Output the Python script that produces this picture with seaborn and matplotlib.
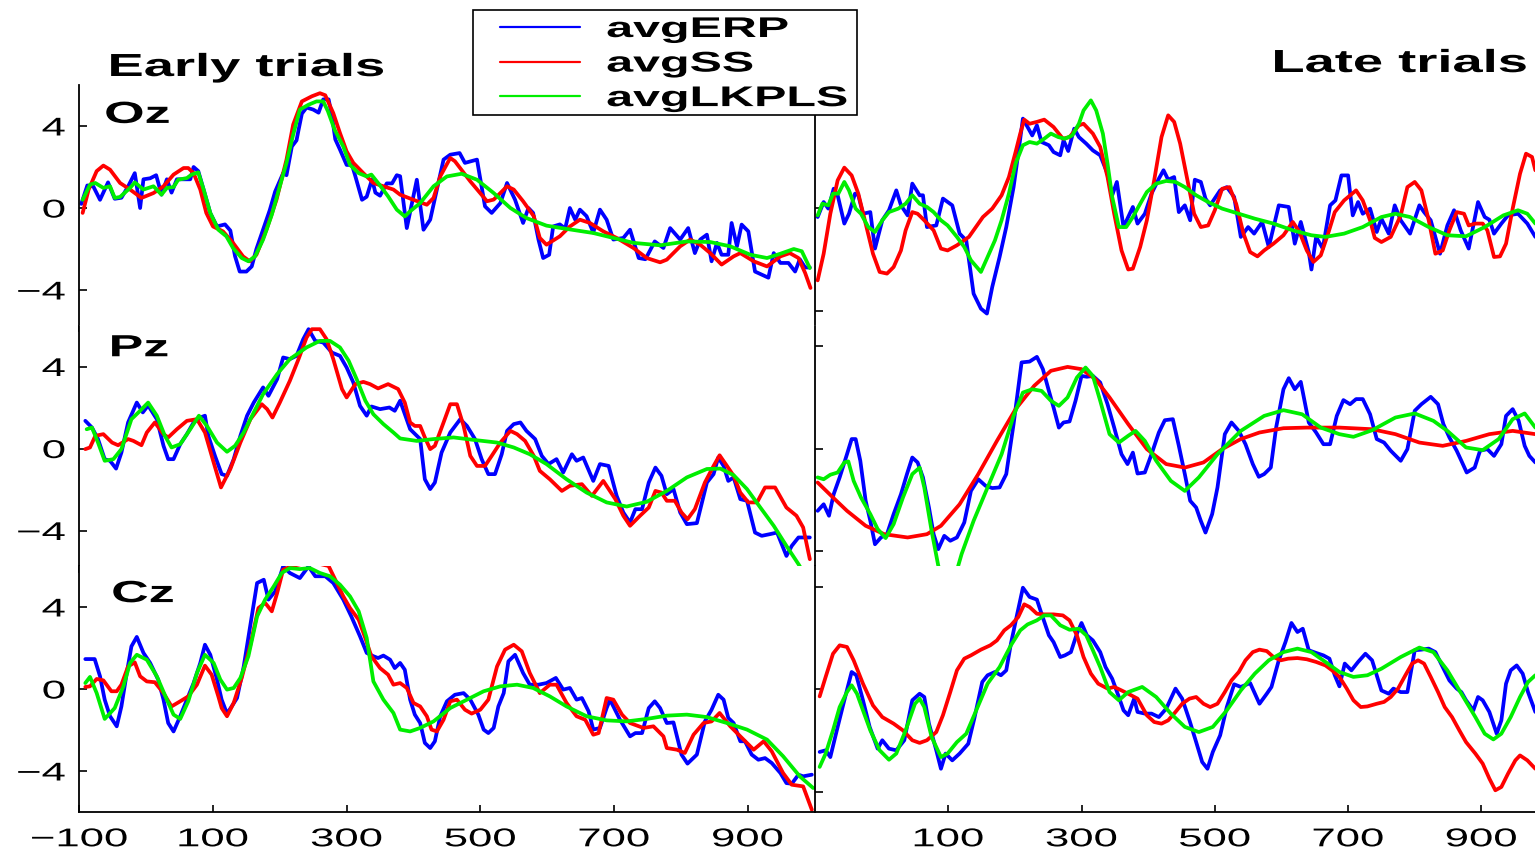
import matplotlib
matplotlib.use("Agg")
import pandas as pd
import seaborn as sns
import matplotlib.pyplot as plt
from matplotlib.patheffects import AbstractPathEffect
from matplotlib.transforms import Affine2D
from matplotlib.lines import Line2D
from matplotlib.patches import Rectangle

# ---------------------------------------------------------------- labels
SERIES = ["avgERP", "avgSS", "avgLKPLS"]
COLORS = ["#0000ff", "#ff0000", "#00ee00"]
CHANNELS = ["Oz", "Pz", "Cz"]
PERIODS = ["Early trials", "Late trials"]
X_TICKS_EARLY = [-100, 100, 300, 500, 700, 900]
X_TICKS_LATE = [100, 300, 500, 700, 900]
Y_TICKS_EARLY = [-4, 0, 4]
Y_TICKS_LATE = [-5, 0, 5]

# ---------------------------------------------------------------- data (time ms, amplitude uV)
OZ_EARLY_ERP = [(-97,0.2),(-88,1.1),(-79,1.05),(-69,0.4),(-57,1.25),(-47,0.45),(-37,0.5),(-27,1.05),(-17,1.7),(-9,0.0),(-4,1.4),(6,1.45),(15,1.6),(23,0.65),(31,1.4),(38,0.75),(46,1.4),(58,1.4),(66,1.4),(71,2.0),(78,1.8),(86,0.9),(96,-0.25),(106,-0.9),(118,-0.8),(126,-1.1),(133,-2.35),(140,-3.1),(150,-3.1),(158,-2.85),(165,-2.0),(175,-1.05),(185,-0.1),(193,0.8),(205,1.7),(210,1.6),(218,3.0),(225,3.3),(228,3.8),(233,4.6),(240,4.9),(250,4.8),(258,4.65),(265,5.3),(273,5.3),(278,4.5),(283,3.35),(290,2.85),(300,2.1),(308,2.1),(313,1.55),(323,0.4),(330,0.55),(338,1.4),(343,0.75),(350,0.6),(360,1.2),(368,1.2),(375,1.6),(380,1.55),(390,-0.98),(405,1.38),(415,-1.06),(425,-0.57),(435,0.9),(445,2.36),(455,2.6),(469,2.68),(477,2.2),(495,2.36),(507,0.08),(517,-0.24),(530,0.24),(540,1.22),(552,0.4),(564,-0.73),(572,0.0),(579,-0.24),(587,-1.54),(594,-2.44),(603,-2.28),(609,-0.9),(619,-0.8),(627,-1.0),(634,0.0),(642,-0.57),(649,-0.08),(659,-0.4),(669,-1.2),(679,-0.08),(689,-0.57),(699,-1.54),(714,-1.46),(724,-1.06),(737,-2.44),(747,-2.5),(761,-1.63),(774,-1.95),(784,-0.98),(799,-1.54),(811,-0.98),(821,-2.2),(829,-1.54),(839,-1.3),(846,-2.6),(854,-1.7),(861,-2.28),(871,-2.28),(876,-0.73),(884,-1.87),(891,-0.81),(901,-1.14),(911,-3.1),(921,-3.25),(931,-3.4),(939,-2.2),(949,-2.68),(961,-2.68),(971,-3.1),(978,-2.5),(986,-2.9),(993,-2.9)]
OZ_EARLY_SS = [(-95,-0.24),(-86,0.9),(-74,1.8),(-64,2.07),(-54,1.87),(-39,1.22),(-24,0.9),(-7,0.49),(11,0.73),(26,1.06),(41,1.63),(56,1.95),(63,1.95),(71,1.7),(81,0.9),(90,-0.24),(100,-0.9),(115,-1.14),(130,-1.7),(145,-2.36),(155,-2.6),(165,-2.28),(180,-1.06),(195,0.4),(210,2.36),(220,4.07),(233,5.2),(248,5.45),(260,5.6),(268,5.5),(280,4.63),(290,3.66),(300,2.76),(310,2.2),(325,1.7),(340,1.22),(355,1.06),(370,0.9),(380,0.65),(400,0.4),(420,0.16),(430,0.49),(440,1.54),(455,2.44),(462,2.28),(485,1.3),(510,0.33),(520,0.41),(530,0.73),(540,1.06),(550,0.9),(564,0.33),(580,-0.4),(589,-1.46),(599,-1.79),(619,-1.38),(634,-0.9),(649,-0.57),(664,-0.73),(684,-1.14),(704,-1.46),(729,-1.95),(749,-2.44),(769,-2.65),(779,-2.52),(799,-1.87),(814,-1.54),(829,-1.79),(844,-2.2),(861,-2.76),(879,-2.36),(889,-2.2),(909,-2.6),(929,-2.85),(949,-2.36),(963,-2.2),(976,-2.44),(986,-3.17),(994,-3.9)]
OZ_EARLY_LKPLS = [(-95,0.4),(-84,1.14),(-76,1.22),(-64,0.98),(-54,1.06),(-47,0.49),(-39,0.54),(-24,0.98),(-17,1.25),(-4,0.9),(11,1.06),(23,0.65),(31,0.98),(41,1.02),(48,1.38),(61,1.46),(68,1.63),(78,1.74),(86,0.9),(96,-0.24),(108,-1.06),(120,-1.38),(130,-1.95),(143,-2.44),(153,-2.6),(163,-2.36),(175,-1.54),(188,-0.33),(200,1.06),(210,2.2),(220,3.58),(230,4.8),(243,5.04),(255,5.2),(265,5.2),(272,4.72),(282,3.82),(295,3.0),(305,2.1),(318,1.7),(330,1.54),(337,1.63),(349,1.14),(362,0.57),(375,-0.08),(387,-0.41),(395,-0.16),(410,0.24),(430,1.06),(450,1.54),(472,1.67),(495,1.38),(520,0.73),(545,0.0),(569,-0.49),(599,-0.86),(629,-1.02),(669,-1.22),(699,-1.46),(729,-1.7),(769,-1.82),(809,-1.63),(844,-1.66),(874,-1.87),(904,-2.28),(929,-2.44),(949,-2.23),(969,-2.0),(981,-2.11),(993,-2.93)]

PZ_EARLY_ERP = [(-91,1.35),(-81,1.02),(-72,0.46),(-62,-0.52),(-54,-0.6),(-45,-0.98),(-37,-0.2),(-27,1.27),(-14,2.24),(-5,1.76),(3,2.1),(16,1.43),(26,0.13),(33,-0.52),(41,-0.52),(51,0.21),(61,0.7),(71,1.27),(81,1.51),(88,1.6),(93,0.62),(103,-0.36),(113,-1.25),(121,-1.33),(131,-0.52),(141,0.62),(151,1.6),(161,2.24),(175,2.98),(183,2.57),(196,3.38),(205,4.44),(215,4.36),(225,4.52),(235,5.33),(243,5.82),(253,5.25),(265,5.17),(278,4.68),(290,4.52),(300,3.95),(310,3.22),(320,2.08),(330,1.6),(337,2.05),(350,1.92),(364,2.0),(372,1.84),(380,2.33),(395,0.94),(410,0.46),(417,-1.5),(425,-1.98),(432,-1.66),(442,-0.2),(455,0.78),(470,1.43),(480,1.1),(492,0.46),(502,-0.52),(512,-1.25),(522,-1.25),(532,-0.28),(540,0.86),(550,1.19),(560,1.27),(569,0.86),(582,0.46),(592,-0.36),(602,-0.76),(614,-0.52),(624,-1.17),(637,-0.28),(644,-0.6),(654,-0.44),(669,-1.58),(679,-0.76),(692,-0.85),(704,-2.31),(714,-3.12),(724,-3.61),(732,-2.96),(742,-2.96),(752,-1.66),(762,-0.93),(771,-1.33),(779,-2.23),(789,-1.98),(799,-3.12),(809,-3.69),(824,-3.64),(839,-1.66),(849,-1.25),(856,-0.44),(864,-0.85),(871,-1.58),(879,-1.41),(889,-2.47),(899,-2.55),(911,-4.1),(921,-4.26),(933,-4.18),(944,-4.1),(958,-5.24),(966,-4.75),(976,-4.34),(993,-4.34)]
PZ_EARLY_SS = [(-91,-0.03),(-84,0.05),(-76,0.62),(-64,0.7),(-51,0.29),(-42,0.16),(-27,0.46),(-19,0.37),(-7,0.16),(1,0.78),(13,1.27),(26,0.7),(33,0.54),(46,0.94),(61,1.35),(76,1.43),(88,0.78),(101,-0.68),(112,-1.9),(126,-1.0),(141,0.29),(156,1.43),(173,2.16),(181,1.92),(189,1.51),(200,2.24),(215,3.3),(228,4.36),(240,5.41),(248,5.82),(260,5.82),(270,5.33),(280,4.36),(293,2.9),(300,2.49),(313,3.14),(325,3.25),(335,3.14),(347,2.93),(362,3.14),(377,2.9),(387,2.24),(395,1.27),(402,1.1),(410,1.1),(417,0.54),(425,-0.03),(432,0.13),(445,1.27),(455,2.16),(465,2.16),(475,1.1),(485,-0.36),(495,-0.85),(507,-0.85),(517,-0.36),(530,0.29),(545,0.86),(555,0.7),(567,0.37),(580,-0.36),(589,-1.09),(604,-1.5),(622,-2.07),(634,-1.82),(652,-1.74),(667,-2.31),(684,-1.58),(702,-2.47),(714,-3.28),(724,-3.77),(739,-3.28),(752,-2.88),(762,-2.07),(771,-2.15),(779,-2.55),(791,-2.55),(801,-3.12),(810,-3.45),(821,-2.96),(836,-1.66),(849,-0.85),(858,-0.33),(869,-0.85),(879,-1.33),(889,-2.15),(901,-2.63),(914,-2.63),(926,-1.9),(941,-1.9),(958,-2.88),(973,-3.28),(983,-3.85),(993,-5.4)]
PZ_EARLY_LKPLS = [(-89,0.94),(-81,1.02),(-72,0.29),(-62,-0.6),(-49,-0.52),(-37,-0.03),(-22,1.43),(-9,1.84),(3,2.24),(16,1.6),(28,0.62),(38,0.05),(51,0.21),(66,0.94),(79,1.6),(91,1.1),(106,0.29),(121,-0.16),(133,0.13),(146,0.78),(161,1.76),(175,2.65),(196,3.63),(215,4.36),(240,4.93),(260,5.25),(275,5.25),(290,4.93),(303,4.28),(315,3.38),(328,2.33),(340,1.67),(355,1.19),(370,0.78),(380,0.49),(405,0.37),(430,0.46),(460,0.54),(490,0.42),(525,0.29),(550,0.05),(574,-0.28),(599,-0.76),(629,-1.5),(659,-2.15),(689,-2.63),(719,-2.83),(749,-2.6),(779,-2.07),(809,-1.41),(839,-1.0),(859,-0.98),(879,-1.3),(899,-1.98),(919,-2.88),(939,-3.77),(958,-4.75),(976,-5.64),(990,-6.4)]

CZ_EARLY_ERP = [(-91,1.46),(-77,1.46),(-69,0.62),(-62,-0.52),(-54,-1.33),(-44,-1.82),(-37,-0.85),(-29,0.78),(-22,2.08),(-14,2.54),(-4,1.76),(6,1.27),(18,0.46),(26,-0.52),(33,-1.66),(41,-2.07),(51,-1.33),(61,-0.52),(71,0.29),(81,1.27),(88,2.16),(96,1.67),(106,0.46),(113,-0.52),(121,-1.2),(128,-0.85),(136,-0.44),(146,1.1),(158,3.54),(166,5.17),(176,5.33),(183,4.36),(193,4.76),(205,5.98),(215,5.66),(230,5.41),(243,5.98),(253,5.5),(268,5.5),(280,5.17),(295,4.36),(307,3.54),(320,2.57),(330,1.76),(340,1.6),(347,1.51),(355,1.63),(365,1.43),(372,1.02),(380,1.27),(387,0.94),(395,-0.52),(402,-1.25),(410,-1.66),(417,-2.63),(425,-2.88),(432,-2.55),(440,-1.33),(450,-0.6),(462,-0.28),(475,-0.2),(485,-0.52),(497,-1.25),(505,-1.98),(512,-2.15),(520,-1.9),(527,-0.85),(535,-0.2),(542,1.35),(552,1.67),(564,0.78),(574,0.21),(587,0.21),(599,0.29),(613,0.54),(624,-0.03),(634,0.05),(644,-0.52),(652,-0.44),(662,-1.09),(669,-1.98),(679,-1.9),(689,-0.93),(694,-0.52),(709,-1.5),(724,-2.31),(732,-2.15),(742,-2.15),(752,-0.93),(761,-0.6),(769,-0.93),(779,-1.66),(789,-1.63),(801,-3.2),(810,-3.64),(824,-3.2),(836,-1.58),(846,-1.01),(856,-0.28),(864,-0.52),(871,-1.41),(879,-1.66),(889,-2.55),(896,-2.55),(906,-3.2),(916,-3.45),(926,-3.37),(936,-3.61),(949,-4.1),(958,-4.59),(966,-4.62),(976,-4.18),(983,-4.26),(996,-4.18)]
CZ_EARLY_SS = [(-91,0.1),(-84,0.13),(-74,0.49),(-64,0.42),(-52,-0.11),(-44,-0.11),(-37,0.21),(-27,1.1),(-17,1.3),(-9,0.62),(1,0.37),(13,0.33),(26,-0.2),(38,-0.85),(51,-0.6),(63,-0.36),(76,0.21),(88,1.14),(98,0.7),(108,-0.36),(113,-0.93),(121,-1.33),(131,-0.68),(143,0.54),(156,2.16),(168,3.95),(178,4.2),(188,3.79),(196,4.68),(205,5.82),(218,6.0),(233,6.1),(245,6.1),(260,6.1),(273,6.0),(283,5.33),(295,4.52),(305,3.95),(318,3.38),(327,2.57),(337,1.6),(350,1.02),(362,0.7),(370,0.21),(380,0.29),(390,0.05),(400,-0.68),(410,-0.85),(420,-1.33),(427,-1.98),(435,-2.07),(445,-1.5),(455,-0.6),(465,-0.52),(477,-1.01),(487,-1.2),(500,-1.01),(512,-0.52),(525,1.1),(537,1.92),(550,2.16),(562,1.84),(574,0.78),(589,-0.2),(604,0.21),(614,0.21),(629,-0.68),(644,-1.33),(657,-1.5),(669,-2.23),(677,-2.15),(689,-0.44),(699,-0.52),(712,-1.25),(724,-1.66),(744,-1.9),(759,-1.82),(774,-2.31),(779,-2.88),(794,-2.96),(806,-3.12),(819,-2.23),(834,-1.66),(846,-1.58),(858,-1.17),(874,-1.82),(889,-2.31),(909,-2.96),(924,-2.55),(936,-3.04),(953,-4.1),(966,-4.67),(983,-4.75),(996,-5.89)]
CZ_EARLY_LKPLS = [(-91,0.29),(-84,0.59),(-74,-0.2),(-62,-1.46),(-47,-0.93),(-34,0.13),(-24,1.27),(-14,1.67),(1,1.43),(16,0.62),(31,-0.52),(41,-1.25),(51,-1.46),(63,-0.6),(76,0.78),(88,1.67),(101,1.27),(111,0.46),(121,-0.03),(131,0.05),(141,0.54),(153,1.6),(166,3.54),(178,4.36),(191,5.01),(203,5.66),(215,5.9),(230,5.85),(245,5.9),(260,5.66),(275,5.5),(290,5.09),(305,4.52),(318,3.79),(330,2.49),(340,0.37),(355,-0.52),(370,-1.17),(380,-1.98),(395,-2.07),(410,-1.9),(430,-1.58),(455,-0.93),(480,-0.52),(505,-0.11),(530,0.13),(555,0.21),(579,0.05),(604,-0.36),(629,-0.85),(659,-1.33),(689,-1.53),(719,-1.58),(749,-1.46),(779,-1.3),(809,-1.25),(839,-1.37),(869,-1.66),(899,-1.98),(929,-2.47),(953,-3.28),(978,-4.26),(998,-4.83)]

OZ_LATE_ERP = [(-96,-0.44),(-87,0.29),(-80,-0.03),(-72,0.94),(-66,0.62),(-56,-0.76),(-49,-0.28),(-40,0.7),(-35,0.62),(-28,-0.28),(-17,-0.2),(-10,-1.98),(1,-0.6),(11,-0.11),(22,0.86),(29,0.13),(39,-0.36),(46,1.19),(57,0.62),(62,0.62),(68,-0.93),(82,-0.85),(92,0.46),(106,0.13),(117,-1.25),(127,-1.58),(138,-4.18),(149,-4.91),(158,-5.15),(166,-3.85),(177,-2.39),(187,-0.93),(198,1.02),(205,2.65),(212,4.36),(219,3.95),(226,3.54),(233,4.03),(240,3.22),(251,3.06),(258,2.73),(268,2.57),(273,3.3),(280,2.78),(289,3.87),(296,3.46),(307,3.14),(317,2.81),(328,2.57),(339,1.67),(346,0.62),(353,1.27),(363,-0.93),(377,0.05),(384,-0.76),(395,-0.28),(405,0.7),(416,1.43),(423,1.84),(430,1.38),(439,1.51),(446,-0.2),(455,0.13),(463,-0.6),(470,1.38),(479,1.27),(486,0.46),(493,0.13),(508,0.86),(518,1.02),(529,0.54),(539,-1.41),(550,-0.93),(559,-1.25),(571,-0.68),(581,-1.9),(596,0.13),(611,0.05),(620,-1.74),(629,-0.68),(641,-2.15),(645,-3.0),(652,-1.41),(662,-1.98),(673,0.13),(681,0.37),(690,1.59),(700,1.59),(707,-0.36),(715,0.29),(722,-0.28),(733,-0.03),(743,-1.17),(750,-0.52),(761,-1.25),(770,0.13),(779,-0.6),(793,-1.25),(807,0.13),(814,-0.2),(824,-0.6),(838,-2.23),(849,-0.85),(859,-0.11),(869,-1.09),(881,-1.98),(895,0.29),(905,-0.44),(912,-0.57),(919,-1.25),(930,-0.76),(940,-0.36),(955,-0.28),(969,-0.76),(981,-1.41)]
OZ_LATE_SS = [(-96,-3.53),(-87,-2.23),(-77,-0.28),(-66,1.35),(-56,1.97),(-45,1.59),(-35,0.7),(-24,-0.76),(-13,-2.23),(-3,-3.12),(8,-3.2),(18,-2.88),(29,-2.07),(36,-1.09),(46,-0.2),(54,-0.28),(64,-0.6),(78,-1.09),(89,-1.98),(99,-2.07),(113,-1.82),(131,-1.41),(152,-0.44),(166,-0.03),(180,0.62),(191,1.51),(201,2.73),(208,3.63),(214,4.31),(222,4.11),(233,4.2),(244,4.31),(258,3.95),(272,3.38),(282,3.46),(296,4.03),(303,4.11),(317,3.63),(328,2.98),(339,1.51),(349,-0.28),(360,-2.07),(370,-3.0),(377,-2.96),(388,-1.9),(398,-0.6),(409,1.35),(420,3.46),(430,4.52),(439,4.2),(448,3.14),(458,1.51),(469,-0.28),(479,-0.93),(490,-0.85),(500,-0.11),(511,0.94),(522,1.02),(532,0.21),(543,-1.25),(553,-2.15),(564,-2.36),(574,-2.07),(588,-1.74),(603,-1.33),(617,-0.68),(627,-1.17),(638,-2.07),(648,-2.63),(659,-2.31),(670,-1.25),(680,-0.2),(694,0.37),(712,0.86),(722,0.37),(733,-0.6),(740,-1.46),(750,-1.66),(764,-1.41),(779,-0.36),(789,1.02),(800,1.27),(810,0.86),(821,-0.6),(831,-2.23),(842,-2.07),(852,-1.09),(863,-0.2),(874,-0.28),(881,-0.85),(891,-0.76),(902,-0.76),(909,-1.09),(919,-2.39),(928,-2.36),(937,-1.74),(947,-0.03),(958,1.67),(967,2.65),(976,2.49),(981,1.84)]
OZ_LATE_LKPLS = [(-96,-0.36),(-89,0.21),(-80,0.13),(-73,0.7),(-65,0.7),(-56,1.27),(-49,0.86),(-39,-0.03),(-31,-0.28),(-20,-0.93),(-10,-1.17),(1,-0.6),(11,-0.2),(25,-0.03),(36,0.21),(46,0.62),(57,0.21),(68,0.05),(78,-0.2),(89,-0.6),(99,-0.85),(113,-1.41),(124,-1.9),(134,-2.55),(149,-3.12),(159,-2.39),(170,-1.58),(180,-0.6),(191,0.7),(201,2.16),(212,3.06),(222,3.22),(233,3.14),(244,3.38),(254,3.63),(265,3.46),(275,3.38),(286,3.54),(296,4.11),(303,4.76),(314,5.25),(322,4.76),(332,3.63),(339,2.16),(346,0.54),(356,-0.93),(367,-0.93),(377,-0.44),(388,0.21),(398,0.78),(412,1.19),(427,1.32),(441,1.27),(455,1.02),(472,0.62),(490,0.29),(511,-0.03),(536,-0.28),(560,-0.52),(588,-0.76),(617,-1.09),(645,-1.33),(666,-1.41),(694,-1.25),(722,-0.93),(750,-0.44),(771,-0.28),(793,-0.44),(821,-0.93),(849,-1.33),(877,-1.38),(905,-0.93),(933,-0.36),(955,-0.11),(969,-0.28),(981,-0.76)]

PZ_LATE_ERP = [(-96,-3.04),(-87,-2.72),(-79,-3.28),(-72,-2.23),(-63,-1.41),(-52,-0.28),(-45,0.46),(-39,0.46),(-32,-0.6),(-24,-2.55),(-17,-3.53),(-10,-4.67),(-1,-4.34),(8,-4.18),(18,-3.2),(29,-2.23),(38,-1.25),(46,-0.44),(54,-0.68),(62,-1.41),(71,-2.88),(78,-4.18),(85,-4.91),(94,-4.26),(103,-4.5),(113,-4.34),(124,-3.61),(134,-2.07),(145,-1.5),(156,-1.82),(166,-1.93),(177,-1.9),(187,-1.25),(198,1.19),(210,4.2),(222,4.24),(233,4.47),(242,3.87),(251,2.81),(258,2.0),(266,1.02),(273,1.27),(282,1.32),(291,2.33),(300,3.54),(308,3.5),(317,3.54),(328,3.22),(339,2.16),(349,1.02),(360,-0.28),(369,-0.76),(377,-0.2),(384,-1.22),(395,-1.17),(405,-0.28),(416,0.78),(425,1.38),(437,1.43),(446,0.13),(455,-1.25),(463,-2.55),(472,-2.88),(479,-3.53),(486,-4.1),(496,-3.2),(504,-1.9),(515,0.7),(525,1.27),(536,0.86),(546,0.21),(557,-0.76),(566,-1.38),(574,-1.25),(584,-0.93),(592,1.02),(603,2.89),(611,3.43),(620,2.89),(629,3.25),(641,1.27),(652,0.78),(663,0.21),(673,0.21),(683,1.59),(693,2.36),(703,2.16),(712,2.41),(722,2.41),(733,1.67),(743,0.46),(754,0.29),(764,-0.11),(779,-0.6),(789,-0.03),(800,1.84),(810,2.16),(824,2.52),(835,2.16),(843,1.19),(852,0.54),(863,-0.11),(870,-0.6),(878,-1.17),(890,-0.93),(898,-0.11),(909,-0.03),(919,-0.36),(930,0.21),(937,1.59),(947,1.92),(956,1.35),(965,0.13),(972,-0.36),(981,-0.68)]
PZ_LATE_SS = [(-96,-1.66),(-73,-2.39),(-52,-3.04),(-24,-3.77),(4,-4.18),(39,-4.34),(68,-4.18),(89,-3.77),(117,-2.72),(145,-1.25),(173,0.37),(201,1.92),(229,3.06),(254,3.79),(279,3.98),(300,3.87),(321,3.38),(342,2.49),(370,1.19),(398,-0.03),(427,-0.76),(455,-0.93),(483,-0.68),(511,-0.03),(539,0.46),(567,0.78),(603,0.99),(638,1.02),(687,1.02),(736,0.94),(771,0.7),(807,0.29),(842,0.13),(877,0.37),(912,0.7),(947,0.86),(981,0.7)]
PZ_LATE_LKPLS = [(-96,-1.41),(-87,-1.5),(-77,-1.28),(-66,-1.17),(-56,-0.68),(-50,-0.63),(-42,-1.58),(-31,-2.39),(-17,-3.2),(-6,-3.93),(6,-4.37),(18,-3.69),(32,-2.39),(46,-1.25),(57,-0.93),(64,-1.9),(75,-4.02),(85,-5.72),(95,-6.5),(108,-6.5),(120,-5.15),(138,-3.53),(159,-1.9),(180,-0.28),(198,1.59),(212,2.73),(226,2.89),(240,2.81),(254,2.33),(266,2.08),(279,2.49),(293,3.46),(306,3.95),(317,3.54),(328,2.33),(342,0.7),(356,0.29),(370,0.62),(381,0.86),(395,0.37),(412,-0.6),(434,-1.58),(455,-2.07),(476,-1.41),(504,-0.28),(539,0.86),(574,1.59),(603,1.87),(631,1.67),(659,1.02),(687,0.7),(708,0.57),(736,0.89),(771,1.51),(800,1.71),(828,1.35),(849,0.86),(877,0.05),(902,-0.08),(926,0.46),(947,1.43),(965,1.71),(981,1.02)]

CZ_LATE_ERP = [(-93,-3.07),(-84,-2.99),(-77,-3.32),(-66,-1.85),(-56,-0.55),(-45,0.83),(-38,0.67),(-28,-0.55),(-18,-1.85),(-6,-2.91),(1,-2.5),(11,-2.91),(22,-2.99),(34,-2.5),(46,-0.55),(57,-0.23),(64,-0.39),(71,-1.69),(82,-2.99),(89,-3.89),(96,-3.15),(106,-3.48),(117,-3.15),(130,-2.67),(139,-1.45),(151,0.34),(159,0.67),(170,0.83),(179,0.67),(187,0.91),(194,2.21),(203,3.59),(212,4.94),(222,4.49),(233,4.36),(240,3.67),(251,2.62),(258,2.29),(268,1.56),(275,1.64),(284,1.8),(293,2.7),(300,3.22),(308,2.62),(317,2.37),(328,1.8),(336,1.07),(346,0.5),(356,-0.39),(363,-1.04),(370,-1.28),(379,-0.47),(384,-1.12),(395,-1.2),(405,-1.2),(416,-1.37),(427,-0.96),(441,0.02),(451,-0.47),(462,-1.53),(472,-2.59),(481,-3.56),(489,-3.89),(497,-3.07),(508,-2.26),(518,-0.88),(529,0.23),(539,0.1),(553,0.29),(567,-0.72),(578,-0.23),(585,0.1),(596,1.4),(606,2.29),(615,3.22),(624,2.78),(632,2.94),(641,1.89),(652,1.76),(663,1.64),(672,1.48),(680,0.67),(687,0.13),(695,1.24),(705,0.91),(715,1.32),(726,1.72),(736,1.4),(750,-0.07),(761,-0.23),(768,0.02),(779,-0.15),(789,-0.15),(800,1.89),(810,1.92),(821,1.97),(831,1.8),(842,1.07),(852,0.42),(863,0.02),(870,-0.15),(877,-0.55),(888,-1.04),(895,-0.39),(902,-0.55),(912,-1.12),(923,-2.18),(930,-1.53),(937,0.26),(944,0.91),(953,1.15),(962,0.75),(970,-0.15),(981,-1.12)]
CZ_LATE_SS = [(-93,-0.36),(-84,0.59),(-73,1.72),(-63,2.13),(-52,2.05),(-42,1.4),(-28,0.26),(-13,-0.8),(1,-1.37),(18,-1.69),(32,-2.02),(46,-2.5),(57,-2.63),(68,-2.5),(82,-2.1),(92,-1.28),(103,-0.15),(113,0.91),(124,1.48),(134,1.64),(149,1.92),(163,2.13),(173,2.37),(184,2.86),(194,3.11),(205,3.51),(214,4.13),(222,4.0),(233,3.67),(244,3.64),(258,3.64),(272,3.59),(282,3.35),(293,2.62),(303,1.56),(314,0.75),(325,0.26),(339,0.02),(349,0.1),(360,-0.07),(370,-0.23),(384,-0.47),(398,-1.28),(409,-1.61),(420,-1.69),(430,-1.53),(441,-1.12),(451,-0.72),(462,-0.47),(472,-0.39),(483,-0.72),(493,-0.88),(504,-0.72),(515,-0.15),(525,0.42),(536,0.83),(546,1.4),(557,1.8),(567,1.92),(578,1.85),(588,1.56),(599,1.4),(610,1.48),(624,1.51),(638,1.45),(652,1.32),(666,1.15),(676,0.91),(687,0.59),(698,0.02),(708,-0.55),(719,-0.88),(729,-0.85),(743,-0.72),(754,-0.63),(764,-0.39),(775,0.02),(786,0.67),(796,1.24),(805,1.4),(814,1.24),(824,0.59),(835,-0.15),(845,-0.88),(856,-1.37),(867,-2.02),(877,-2.59),(891,-3.15),(902,-3.64),(912,-4.37),(921,-4.94),(930,-4.78),(940,-4.13),(951,-3.48),(958,-3.24),(969,-3.48),(981,-3.89)]
CZ_LATE_LKPLS = [(-93,-3.8),(-84,-3.15),(-73,-2.02),(-63,-0.88),(-52,-0.15),(-45,0.18),(-37,-0.23),(-28,-1.04),(-17,-2.02),(-3,-2.99),(11,-3.45),(22,-3.15),(36,-2.02),(50,-0.72),(57,-0.47),(64,-0.88),(75,-2.34),(89,-3.32),(99,-3.15),(113,-2.59),(127,-2.18),(142,-1.04),(159,0.26),(177,1.07),(194,2.13),(208,2.86),(219,3.15),(233,3.35),(244,3.59),(254,3.59),(268,3.11),(282,2.89),(296,2.94),(307,2.62),(317,1.89),(328,1.07),(342,-0.15),(356,-0.55),(370,-0.15),(391,0.1),(412,-0.39),(434,-1.2),(455,-1.85),(476,-2.1),(497,-1.85),(518,-1.04),(539,-0.07),(560,0.75),(581,1.4),(603,1.8),(624,1.97),(645,1.8),(666,1.32),(687,0.83),(708,0.59),(729,0.67),(750,0.99),(779,1.56),(807,2.02),(828,1.8),(849,0.91),(870,-0.23),(891,-1.37),(905,-2.18),(918,-2.46),(930,-2.18),(944,-1.37),(958,-0.39),(970,0.34),(981,0.67)]

PANELS = {
    ("Oz", "Early trials"): (OZ_EARLY_ERP, OZ_EARLY_SS, OZ_EARLY_LKPLS),
    ("Pz", "Early trials"): (PZ_EARLY_ERP, PZ_EARLY_SS, PZ_EARLY_LKPLS),
    ("Cz", "Early trials"): (CZ_EARLY_ERP, CZ_EARLY_SS, CZ_EARLY_LKPLS),
    ("Oz", "Late trials"): (OZ_LATE_ERP, OZ_LATE_SS, OZ_LATE_LKPLS),
    ("Pz", "Late trials"): (PZ_LATE_ERP, PZ_LATE_SS, PZ_LATE_LKPLS),
    ("Cz", "Late trials"): (CZ_LATE_ERP, CZ_LATE_SS, CZ_LATE_LKPLS),
}


class Widen(AbstractPathEffect):
    """Draw text glyph paths stretched horizontally about an anchor edge."""

    def __init__(self, factor, anchor="center"):
        super().__init__()
        self.factor = factor
        self.anchor = anchor

    def draw_path(self, renderer, gc, tpath, affine, rgbFace=None):
        box = tpath.get_extents(affine)
        if self.anchor == "left":
            x0 = box.x0
        elif self.anchor == "right":
            x0 = box.x1
        else:
            x0 = 0.5 * (box.x0 + box.x1)
        stretch = Affine2D().translate(-x0, 0).scale(self.factor, 1.0).translate(x0, 0)
        renderer.draw_path(gc, tpath, affine + stretch, rgbFace)


def panel_frame(curves):
    rows = []
    for name, pts in zip(SERIES, curves):
        for t, v in pts:
            rows.append((name, t, v))
    return pd.DataFrame(rows, columns=["series", "time", "amplitude"])


sns.set_theme(style="white", rc={
    "axes.edgecolor": "black", "xtick.color": "black", "ytick.color": "black",
    "text.color": "black", "axes.labelcolor": "black",
})
plt.rcParams["font.family"] = ["Liberation Sans", "DejaVu Sans"]
plt.rcParams["axes.unicode_minus"] = True

W, H = 1535, 856
WIDEN = 1.7
fig = plt.figure(figsize=(W / 100, H / 100), dpi=100)
fig.patch.set_facecolor("white")

# column geometry in pixels: (left edge, width); row geometry: top edge
col_px = {"Early trials": (79.3, 735.2), "Late trials": (815.0, 733.0)}
row_top_px = {"Oz": 85.0, "Pz": 325.5, "Cz": 566.0}
row_h_px = 246.0
label_pos = {"Oz": (-61.5, 4.15), "Pz": (-54.0, 4.5), "Cz": (-51.0, 4.24)}

axes = {}
for ch in CHANNELS:
    for period in PERIODS:
        left, width = col_px[period]
        top = row_top_px[ch]
        ax = fig.add_axes([left / W, 1 - (top + row_h_px) / H, width / W, row_h_px / H])
        ax.set_facecolor("white")
        df = panel_frame(PANELS[(ch, period)])
        sns.lineplot(data=df, x="time", y="amplitude", hue="series", hue_order=SERIES,
                     palette=COLORS, estimator=None, sort=False, legend=False,
                     linewidth=2.7, ax=ax)
        ax.set_xlim(-100, 1000)
        ax.set_ylim(-6, 6)
        ax.set_xlabel("")
        ax.set_ylabel("")
        for side in ("top", "right"):
            ax.spines[side].set_visible(False)
        ax.spines["left"].set_linewidth(1.3)
        ax.spines["bottom"].set_linewidth(1.3)
        bottom_row = ch == "Cz"
        ax.spines["bottom"].set_visible(bottom_row)
        early = period == "Early trials"
        ax.set_yticks(Y_TICKS_EARLY if early else Y_TICKS_LATE)
        ax.tick_params(axis="y", direction="in", length=6, width=1.2,
                       labelsize=18.5, pad=10, left=True, labelleft=early)
        if bottom_row:
            ax.set_xticks(X_TICKS_EARLY if early else X_TICKS_LATE)
            ax.tick_params(axis="x", direction="in", length=5, width=1.2,
                           labelsize=18.5, pad=11, bottom=True, labelbottom=True)
        else:
            ax.set_xticks([])
        if early:
            tx, ty = label_pos[ch]
            ax.text(tx, ty, ch, ha="left", va="baseline", fontsize=22, fontweight="bold",
                    zorder=10, path_effects=[Widen(WIDEN, "left")])
        axes[(ch, period)] = ax

# column titles
fig.text(109 / W, 1 - 76 / H, PERIODS[0], ha="left", va="baseline", fontsize=23,
         fontweight="bold", path_effects=[Widen(WIDEN, "left")])
fig.text(1527 / W, 1 - 72 / H, PERIODS[1], ha="right", va="baseline", fontsize=23,
         fontweight="bold", path_effects=[Widen(WIDEN, "right")])

# legend box and entries
box = Rectangle((473 / W, 1 - 115 / H), 384 / W, 105 / H, transform=fig.transFigure,
                facecolor="white", edgecolor="black", linewidth=1.2, zorder=4)
fig.add_artist(box)
handles = [Line2D([], [], color=c, linewidth=1.6) for c in COLORS]
leg = fig.legend(handles, SERIES, loc="upper left", bbox_to_anchor=(500 / W, 1 - 17 / H),
                 frameon=False, borderpad=0, borderaxespad=0, handlelength=2.8,
                 handletextpad=0.95, labelspacing=0.3,
                 prop={"weight": "bold", "size": 20.5})
leg.set_zorder(6)
for txt in leg.get_texts():
    txt.set_path_effects([Widen(WIDEN, "left")])

fig.canvas.draw()
for (ch, period), ax in axes.items():
    for lab in ax.get_xticklabels():
        lab.set_path_effects([Widen(WIDEN, "center")])
    for lab in ax.get_yticklabels():
        lab.set_path_effects([Widen(WIDEN, "right")])

fig.savefig("out.png", dpi=100, facecolor="white")
